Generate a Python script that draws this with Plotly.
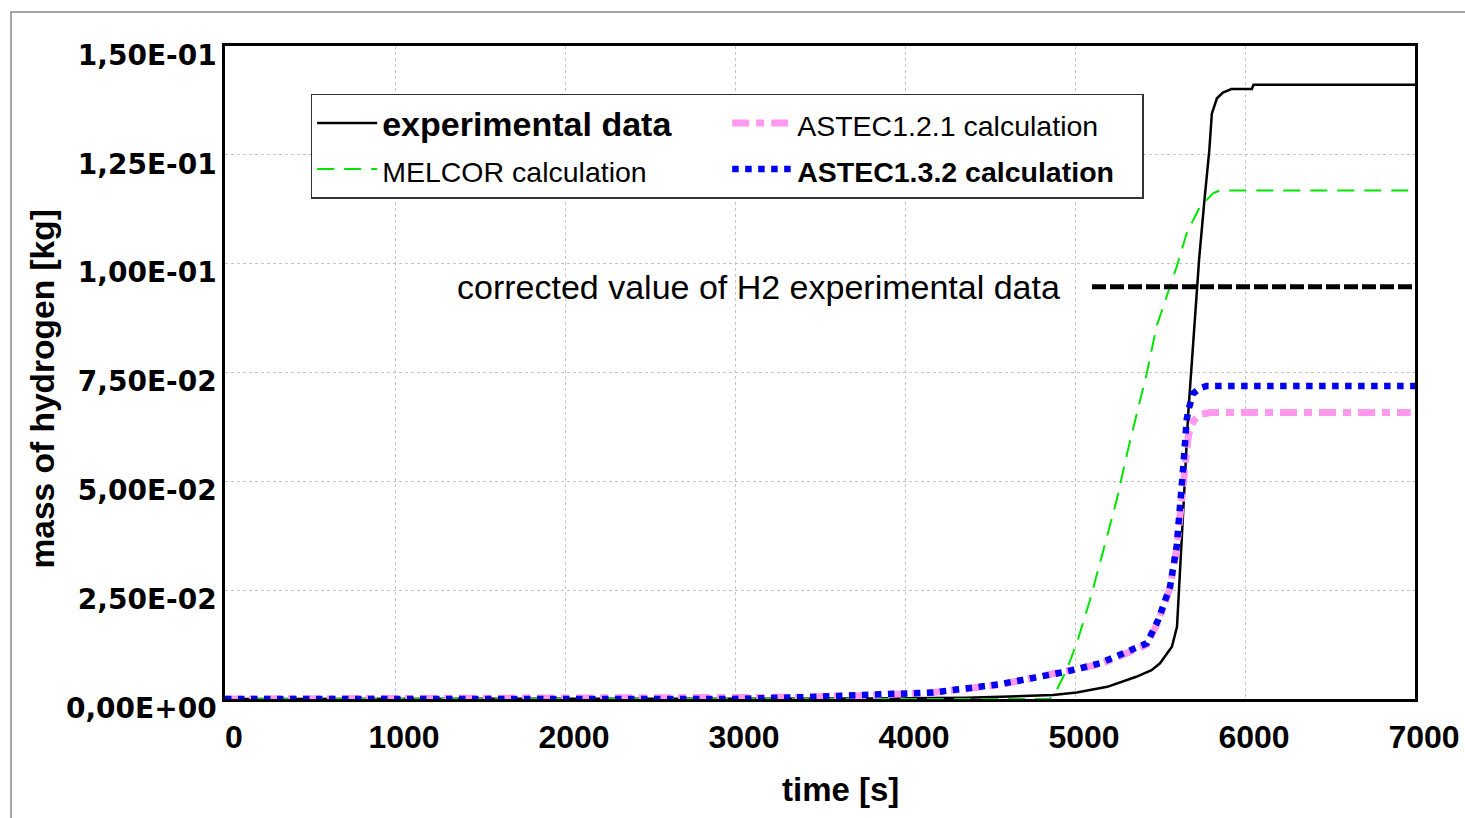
import plotly.graph_objects as go

# ---------------- data ----------------
exp_t = [0, 3000, 3800, 4360, 4870, 5010, 5190, 5360, 5450, 5500, 5570, 5600, 5620, 5640,
         5665, 5690, 5710, 5730, 5760, 5790, 5805, 5835, 5870, 5920, 6040, 6050, 7000]
exp_v = [0, 0, 0.0001, 0.0003, 0.0009, 0.0015, 0.0028, 0.0051, 0.0066, 0.0082, 0.0120, 0.0166,
         0.0304, 0.0457, 0.0650, 0.0790, 0.0890, 0.1010, 0.1140, 0.1260, 0.1345, 0.1380,
         0.1393, 0.1401, 0.1401, 0.1411, 0.1411]

melcor_t = [0, 4850, 4882, 4951, 5010, 5088, 5167, 5245, 5310, 5382, 5422, 5480, 5520,
            5598, 5657, 5735, 5814, 5853, 7000]
melcor_v = [0, 0, 0.0013, 0.0067, 0.0128, 0.0227, 0.0342, 0.0457, 0.0570, 0.0687, 0.0748,
            0.0856, 0.0901, 0.0993, 0.1070, 0.1131, 0.1162, 0.1168, 0.1168]

astec121_t = [0, 2990, 3382, 3775, 4167, 4559, 4951, 5147, 5245, 5422, 5490, 5520, 5559,
              5598, 5618, 5640, 5665, 5680, 5700, 5735, 5794, 6975]
astec121_v = [0, 0, 0.0004, 0.0008, 0.0015, 0.0033, 0.0062, 0.0080, 0.0095, 0.0125, 0.0178,
              0.0212, 0.0255, 0.0345, 0.0430, 0.0530, 0.0600, 0.0625, 0.0640, 0.0653,
              0.0658, 0.0658]

astec132_t = [0, 2990, 3382, 3775, 4167, 4559, 4951, 5147, 5245, 5422, 5490, 5520, 5559,
              5598, 5618, 5637, 5657, 5667, 5696, 5735, 5775, 7000]
astec132_v = [0, 0, 0.0004, 0.0008, 0.0015, 0.0034, 0.0063, 0.0082, 0.0097, 0.0128, 0.0182,
              0.0216, 0.0258, 0.0350, 0.0434, 0.0534, 0.0641, 0.0664, 0.0702, 0.0714,
              0.0719, 0.0719]

corrected_t = [5100, 6985]
corrected_v = [0.0947, 0.0947]

x_tick_vals = [0, 1000, 2000, 3000, 4000, 5000, 6000, 7000]
y_tick_vals = [0, 0.025, 0.05, 0.075, 0.10, 0.125, 0.15]
y_tick_text = ["0,00E+00", "2,50E-02", "5,00E-02", "7,50E-02", "1,00E-01", "1,25E-01", "1,50E-01"]

FONT = "Liberation Sans, Arial, sans-serif"
SMALL = "<span style='font-size:28.5px'>{}</span>"

fig = go.Figure()

fig.add_trace(go.Scatter(
    x=exp_t, y=exp_v, mode="lines", legendrank=1,
    name="<b><span style='font-size:34px'>experimental data</span></b>",
    line=dict(color="black", width=2.5)))
fig.add_trace(go.Scatter(
    x=melcor_t, y=melcor_v, mode="lines", legendrank=3,
    name=SMALL.format("MELCOR calculation"),
    line=dict(color="#00E600", width=2, dash="17px,10px")))
fig.add_trace(go.Scatter(
    x=astec121_t, y=astec121_v, mode="lines", legendrank=2,
    name=SMALL.format("ASTEC1.2.1 calculation"),
    line=dict(color="#FF99F0", width=7, dash="17px,7px,8px,7px")))
fig.add_trace(go.Scatter(
    x=astec132_t, y=astec132_v, mode="lines", legendrank=4,
    name="<b>" + SMALL.format("ASTEC1.3.2 calculation") + "</b>",
    line=dict(color="#0000F0", width=6.5, dash="dot")))
fig.add_trace(go.Scatter(
    x=corrected_t, y=corrected_v, mode="lines", showlegend=False,
    line=dict(color="black", width=5, dash="14px,4px")))

fig.add_annotation(
    x=1353, y=corrected_v[0], xref="x", yref="y", xanchor="left", yanchor="middle",
    text="corrected value of H2 experimental data", showarrow=False,
    font=dict(family=FONT, size=34, color="black"))

# axis titles
fig.add_annotation(
    x=0.5176, y=-0.139, xref="paper", yref="paper", xanchor="center", yanchor="middle",
    text="<b>time [s]</b>", showarrow=False, font=dict(family=FONT, size=33, color="black"))
fig.add_annotation(
    x=-0.1530, y=0.4755, xref="paper", yref="paper", xanchor="center", yanchor="middle",
    text="<b>mass of hydrogen [kg]</b>", textangle=-90, showarrow=False,
    font=dict(family=FONT, size=33.5, color="black"))

# outer picture frame
fig.add_shape(type="path", xref="paper", yref="paper",
              path="M -0.1798,-0.19 L -0.1798,1.0520 L 1.06,1.0520",
              line=dict(color="#888888", width=1.5))

fig.update_layout(
    width=1465, height=818,
    margin=dict(l=225, r=50, t=46, b=119, autoexpand=False),
    paper_bgcolor="white", plot_bgcolor="white",
    font=dict(family=FONT, color="black"),
    showlegend=True,
    legend=dict(
        orientation="h", x=0.072, y=0.927, xanchor="left", yanchor="top",
        entrywidth=340, entrywidthmode="pixels", itemwidth=60,
        bgcolor="white", bordercolor="#333333", borderwidth=1.5,
        font=dict(family=FONT, size=33, color="black")),
    xaxis=dict(
        range=[0, 7000], tickvals=x_tick_vals, ticks="", automargin=False,
        ticklabeloverflow="allow",
        showline=True, linecolor="black", linewidth=2.5, mirror=True,
        showgrid=True, gridcolor="#c4c4c4", gridwidth=1, griddash="dot",
        zeroline=False, ticklabelstandoff=8, ticklabelshift=9,
        tickfont=dict(family=FONT, size=32, color="black", weight="bold")),
    yaxis=dict(
        range=[0, 0.15], tickvals=y_tick_vals, ticktext=y_tick_text, ticks="", automargin=False,
        ticklabeloverflow="allow",
        showline=True, linecolor="black", linewidth=2.5, mirror=True,
        showgrid=True, gridcolor="#c4c4c4", gridwidth=1, griddash="dot",
        zeroline=False, ticklabelstandoff=0, ticklabelshift=9,
        tickfont=dict(family="DejaVu Sans, sans-serif", size=28, color="black", weight="bold")),
)

fig.write_html("out.html")
